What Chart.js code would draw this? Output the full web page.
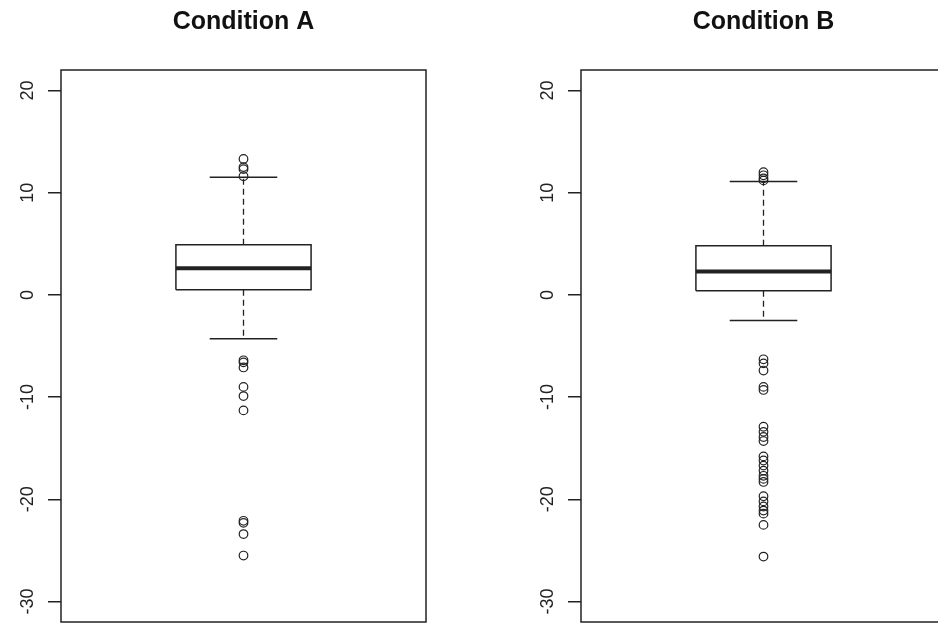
<!DOCTYPE html>
<html>
<head>
<meta charset="utf-8">
<script src="https://cdn.jsdelivr.net/npm/chart.js@4.4.1/dist/chart.umd.min.js"></script>
<style>
  html, body { margin: 0; padding: 0; background: #fff; }
  #wrap { position: relative; width: 938px; height: 625px; overflow: hidden; }
  canvas { position: absolute; top: 0; }
</style>
</head>
<body>
<div id="wrap">
  <canvas id="chartA" width="520" height="625" style="left:0"></canvas>
  <canvas id="chartB" width="520" height="625" style="left:520px"></canvas>
</div>
<script>
// box statistics
const categories = ['Condition A', 'Condition B'];
const whiskerLow = [-4.3, -2.5];
const q1 = [0.5, 0.4];
const median = [2.6, 2.3];
const q3 = [4.9, 4.8];
const whiskerHigh = [11.5, 11.1];
const outliersA = [13.3, 12.5, 12.3, 11.6, -6.4, -6.6, -7.1, -9.0, -9.9, -11.3, -22.1, -22.3, -23.4, -25.5];
const outliersB = [12.0, 11.7, 11.4, 11.2, -6.3, -6.7, -7.4, -9.0, -9.3, -12.9, -13.4, -13.9, -14.3,
  -15.8, -16.2, -16.7, -17.2, -17.7, -18.0, -18.3, -19.7, -20.2, -20.7, -21.1, -21.4, -22.5, -25.6];
const yTicks = [-30, -20, -10, 0, 10, 20];

const BOX_HALF = 0.2;
const CAP_HALF = 0.1;
const INK = '#222';

const rPlot = {
  id: 'rPlot',
  afterDraw(chart) {
    const { ctx, chartArea: a, scales: { y } } = chart;
    ctx.save();
    ctx.strokeStyle = INK;
    ctx.lineWidth = 1.5;
    ctx.strokeRect(a.left, a.top, a.right - a.left, a.bottom - a.top);
    // title
    ctx.fillStyle = '#111';
    ctx.font = 'bold 25px "Liberation Sans", Arial, sans-serif';
    ctx.textAlign = 'center';
    ctx.textBaseline = 'alphabetic';
    ctx.fillText(chart.options.plugins.rPlot.title, (a.left + a.right) / 2, 29);
    // tick labels, parallel to the axis
    ctx.font = '18px "Liberation Sans", Arial, sans-serif';
    ctx.fillStyle = '#222';
    yTicks.forEach(v => {
      ctx.save();
      ctx.translate(a.left - 28, y.getPixelForValue(v));
      ctx.rotate(-Math.PI / 2);
      ctx.fillText(String(v), 0, 0);
      ctx.restore();
    });
    ctx.restore();
  }
};

function makePanel(id, i, outliers) {
  const lineDs = (data, width, dash) => ({
    type: 'line', data, borderColor: INK, borderWidth: width, borderDash: dash || [],
    pointRadius: 0, fill: false, tension: 0, spanGaps: false
  });
  const datasets = [
    lineDs([{ x: 1, y: q3[i] }, { x: 1, y: whiskerHigh[i] }, { x: 1, y: null },
            { x: 1, y: q1[i] }, { x: 1, y: whiskerLow[i] }], 1.3, [6, 4]),
    lineDs([{ x: 1 - CAP_HALF, y: whiskerHigh[i] }, { x: 1 + CAP_HALF, y: whiskerHigh[i] }, { x: 1, y: null },
            { x: 1 - CAP_HALF, y: whiskerLow[i] }, { x: 1 + CAP_HALF, y: whiskerLow[i] }], 1.5),
    lineDs([{ x: 1 - BOX_HALF, y: q1[i] }, { x: 1 + BOX_HALF, y: q1[i] }, { x: 1 + BOX_HALF, y: q3[i] },
            { x: 1 - BOX_HALF, y: q3[i] }, { x: 1 - BOX_HALF, y: q1[i] }], 1.5),
    lineDs([{ x: 1 - BOX_HALF, y: median[i] }, { x: 1 + BOX_HALF, y: median[i] }], 4),
    {
      type: 'scatter', data: outliers.map(v => ({ x: 1, y: v })),
      pointRadius: 4.3, pointBorderWidth: 1.2, pointBorderColor: INK,
      pointBackgroundColor: 'rgba(0,0,0,0)', showLine: false
    }
  ];
  new Chart(document.getElementById(id), {
    type: 'scatter',
    data: { datasets },
    plugins: [rPlot],
    options: {
      responsive: false,
      animation: false,
      events: [],
      layout: { autoPadding: false, padding: { left: 0, top: 70, right: 94, bottom: 3 } },
      plugins: { legend: { display: false }, tooltip: { enabled: false }, rPlot: { title: categories[i] } },
      scales: {
        x: { type: 'linear', min: 0.46, max: 1.54, display: false },
        y: {
          type: 'linear', min: -32, max: 22,
          afterBuildTicks: s => { s.ticks = yTicks.map(v => ({ value: v })); },
          afterFit: s => { s.width = 61; },
          ticks: { display: false },
          border: { display: false },
          grid: { drawOnChartArea: false, drawTicks: true, tickLength: 13, tickColor: INK, lineWidth: 1.5 }
        }
      }
    }
  });
}

makePanel('chartA', 0, outliersA);
makePanel('chartB', 1, outliersB);
</script>
</body>
</html>
